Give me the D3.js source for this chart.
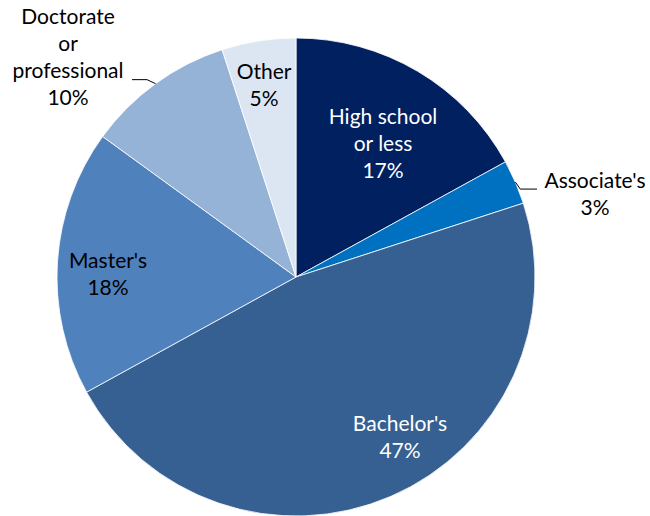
<!DOCTYPE html>
<html>
<head>
<meta charset="utf-8">
<script src="https://cdn.jsdelivr.net/npm/d3@7"></script>
<style>
  html, body { margin: 0; padding: 0; background: #fff; }
  svg text { font-family: "Lato", "Open Sans", sans-serif; font-size: 21px; }
</style>
</head>
<body>
<svg id="chart" width="650" height="516"></svg>
<script>
// Degree categories, clockwise from 12 o'clock
const categories = ["High school or less", "Associate's", "Bachelor's", "Master's", "Doctorate or professional", "Other"];
const shares = [17, 3, 47, 18, 10, 5];
const colors = ["#002060", "#0070C0", "#376092", "#4F81BD", "#95B3D7", "#DCE6F2"];
const textColors = ["#fff", "#000", "#fff", "#000", "#000", "#000"];
// label lines per slice (the percentage is appended as the last line)
const labelLines = [
  ["High school", "or less"],
  ["Associate's"],
  ["Bachelor's"],
  ["Master's"],
  ["Doctorate", "or", "professional"],
  ["Other"]
];

const svg = d3.select("#chart");
const cx = 296, cy = 277, r = 239;
const g = svg.append("g").attr("transform", `translate(${cx},${cy})`);

const pie = d3.pie().sort(null).value(d => d.v);
const data = categories.map((c, i) => ({ c, v: shares[i], i }));
const arcs = pie(data);
const arc = d3.arc().innerRadius(0).outerRadius(r);

g.selectAll("path.slice")
  .data(arcs)
  .join("path")
  .attr("class", "slice")
  .attr("d", arc)
  .attr("fill", d => colors[d.data.i])
  .attr("stroke", "#fff")
  .attr("stroke-width", 0.8);

// label placement: horizontal center and first baseline, relative to pie center
const labelPos = [
  { x: 87, y: -153 },   // High school
  { x: 299, y: -89 },   // Associate's
  { x: 104, y: 154 },   // Bachelor's
  { x: -188, y: -9 },   // Master's
  { x: -228, y: -253 }, // Doctorate
  { x: -32, y: -198 }   // Other
];
const lineH = 27;

arcs.forEach(a => {
  const i = a.data.i;
  const lines = labelLines[i].concat([a.data.v + "%"]);
  const p = labelPos[i];
  const t = g.append("text")
    .attr("text-anchor", "middle")
    .attr("fill", textColors[i]);
  lines.forEach((ln, j) => {
    t.append("tspan")
      .attr("x", p.x)
      .attr("y", p.y + j * lineH)
      .text(ln);
  });
});

// leader lines for the labels placed outside the pie
const leader = d3.line();
function edgePoint(a, frac) {
  const ang = a.startAngle + (a.endAngle - a.startAngle) * frac;
  return [Math.sin(ang) * r, -Math.cos(ang) * r];
}
const assocEdge = edgePoint(arcs[1], 0.5);
g.append("path")
  .attr("d", leader([assocEdge, [assocEdge[0] + 5, assocEdge[1] + 7], [241, assocEdge[1] + 7]]))
  .attr("fill", "none").attr("stroke", "#000").attr("stroke-width", 1);
const docEdge = edgePoint(arcs[4], 0.5);
g.append("path")
  .attr("d", leader([[-164, docEdge[1] - 4], [-149, docEdge[1] - 4], docEdge]))
  .attr("fill", "none").attr("stroke", "#000").attr("stroke-width", 1);
</script>
</body>
</html>
